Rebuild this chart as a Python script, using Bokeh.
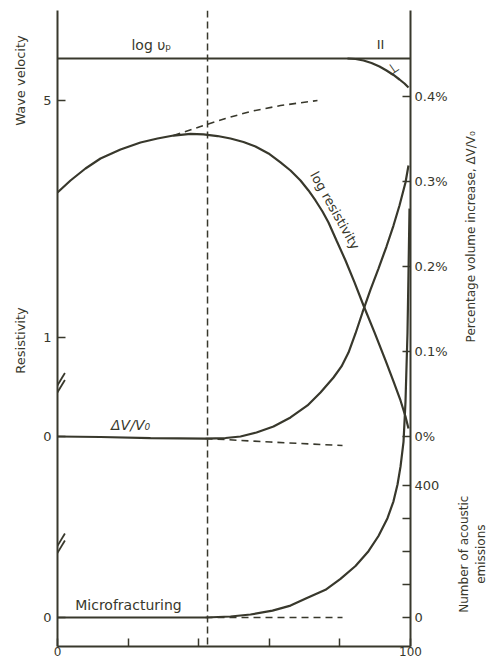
import math
from bokeh.plotting import figure
from bokeh.layouts import row
from bokeh.models import (Range1d, LinearAxis, FixedTicker, CustomJSTickFormatter,
                          Span, Label)
from bokeh.embed import file_html
from bokeh.resources import INLINE

# ---------------- data ----------------
time_major_ticks = [0, 100]
time_minor_ticks = [20, 40, 60, 80]
time_tick_labels = ["0", "100"]
critical_time = 42.5

# wave velocity (log vp) and its perpendicular branch
vp_time = [0, 100]
vp_log = [5.40, 5.40]
vperp_time = [82.15, 84.42, 86.69, 88.95, 91.22, 93.20, 95.18, 96.88, 98.30, 99.43]
vperp_log = [5.400, 5.395, 5.381, 5.357, 5.324, 5.286, 5.243, 5.200, 5.162, 5.124]
vel_tick_values = [5]

# log resistivity
res_time = [0, 3.68, 7.93, 12.18, 17.85, 23.51, 28.33, 32.86, 37.68, 41.36, 45.33,
            49.01, 52.69, 56.09, 59.77, 63.17, 66.01, 68.84, 71.10, 73.09, 75.07,
            76.77, 79.04, 81.59, 84.14, 86.69, 89.80, 92.92, 95.18, 97.17, 98.58, 99.43]
res_val = [2.465, 2.586, 2.707, 2.808, 2.899, 2.970, 3.010, 3.040, 3.056, 3.051, 3.035,
           3.010, 2.975, 2.929, 2.859, 2.768, 2.687, 2.586, 2.485, 2.384, 2.273,
           2.162, 1.980, 1.778, 1.556, 1.323, 1.051, 0.768, 0.556, 0.364, 0.202, 0.081]
res_trend_time = [32.86, 40.51, 47.59, 54.67, 63.17, 73.65]
res_trend_val = [3.040, 3.131, 3.212, 3.283, 3.343, 3.394]
res_tick_values = [0, 1]
res_break = 0.535

# volume increase dV/V0 (%)
dv_time = [0, 12.18, 26.35, 41.93, 47.59, 51.84, 56.37, 61.19, 66.01, 70.82, 74.50,
           78.19, 80.45, 82.44, 84.42, 86.40, 88.67, 90.93, 93.20, 95.18, 96.88,
           98.58, 99.43]
dv_pct = [0, -0.0006, -0.0018, -0.0024, -0.0018, 0, 0.0047, 0.0118, 0.0224, 0.0365,
          0.0518, 0.0694, 0.0824, 0.0988, 0.1212, 0.1459, 0.1729, 0.1976, 0.2235,
          0.2482, 0.2718, 0.2988, 0.3188]
dv_trend_time = [41.93, 60.34, 80.74]
dv_trend_pct = [-0.0024, -0.0065, -0.0106]
pct_tick_values = [0, 0.1, 0.2, 0.3, 0.4]
pct_tick_labels = ["0%", "0.1%", "0.2%", "0.3%", "0.4%"]

# acoustic emissions (microfracturing)
ae_time = [0, 26.35, 41.93, 49.01, 54.67, 60.91, 66.01, 70.82, 75.92, 80.17, 84.42,
           88.10, 90.93, 93.48, 95.18, 96.32, 97.17, 98.02, 98.58, 99.15, 99.43, 99.72]
ae_count = [0, 0, 0, 3, 9, 21, 36, 60, 84, 117, 156, 201, 247, 301, 352, 403, 457,
            532, 653, 863, 1043, 1239]
ae_trend_time = [41.93, 80.74]
ae_trend_count = [0, 0]
ae_major_ticks = [0, 400]
ae_minor_ticks = [100, 200, 300]
ae_tick_labels = ["0", "400"]
ae_break = 222.6

# ---------------- layout / styling ----------------
INK = "#38382c"
FONT = "DejaVu Sans"
H = 661
TOP, BOTTOM = 10, 15          # frame borders (px)
FRAME_TOP_PX, FRAME_BOT_PX = TOP, H - BOTTOM


def anchored_range(v0, px0, v1, px1):
    """range whose values v0, v1 sit at page rows px0, px1"""
    k = (v1 - v0) / (px0 - px1)
    return Range1d(v0 - (FRAME_BOT_PX - px0) * k, v0 + (px0 - FRAME_TOP_PX) * k)


vel_rng = anchored_range(5.0, 100, 5.4, 58)
res_rng = anchored_range(0.0, 436, 1.0, 337)
pct_rng = anchored_range(0.0, 436, 0.4, 96)
ae_rng = anchored_range(0.0, 617, 400.0, 485)
main_y = Range1d(0, 1)
ranges = {"vel": vel_rng, "res": res_rng, "pct": pct_rng, "ae": ae_rng}


def frac(v, rng):
    return (v - rng.start) / (rng.end - rng.start)


def base_fig(width, xr, left, right):
    f = figure(width=width, height=H, x_range=xr, y_range=main_y,
               output_backend="svg", toolbar_location=None,
               x_axis_type=None, y_axis_type=None,
               min_border_left=left, min_border_right=right,
               min_border_top=TOP, min_border_bottom=BOTTOM)
    f.extra_y_ranges = ranges
    f.outline_line_color = None
    f.background_fill_color = "white"
    f.border_fill_color = "white"
    f.xgrid.visible = False
    f.ygrid.visible = False
    return f


def lookup_formatter(positions, labels):
    return CustomJSTickFormatter(args=dict(pos=positions, labels=labels), code="""
        let best = 0;
        for (let i = 0; i < pos.length; i++) {
            if (Math.abs(pos[i] - tick) < Math.abs(pos[best] - tick)) best = i;
        }
        return labels[best];
    """)


def style_axis(ax, size="13px"):
    ax.axis_line_color = INK
    ax.axis_line_width = 2
    for pre in ("major", "minor"):
        setattr(ax, pre + "_tick_line_color", INK)
        setattr(ax, pre + "_tick_line_width", 1.5)
        setattr(ax, pre + "_tick_in", 8)
        setattr(ax, pre + "_tick_out", 0)
    ax.major_label_text_font = FONT
    ax.major_label_text_font_size = size
    ax.major_label_text_color = INK


# main plot: frame from page x 57 to 410
p = base_fig(415, Range1d(0, 100), 22, 40)

left_pos = [frac(0, ae_rng), frac(0, res_rng), frac(1, res_rng), frac(5, vel_rng)]
left_lab = ["0", "0", "1", "5"]
left_axis = LinearAxis(ticker=FixedTicker(ticks=left_pos),
                       formatter=lookup_formatter(left_pos, left_lab))
style_axis(left_axis)
left_axis.major_label_standoff = 6
p.add_layout(left_axis, "left")

right_pos = ([frac(v, ae_rng) for v in ae_major_ticks]
             + [frac(v, pct_rng) for v in pct_tick_values])
right_lab = ae_tick_labels + pct_tick_labels
right_axis = LinearAxis(ticker=FixedTicker(ticks=right_pos,
                                           minor_ticks=[frac(v, ae_rng) for v in ae_minor_ticks]),
                        formatter=lookup_formatter(right_pos, right_lab))
style_axis(right_axis)
right_axis.major_label_standoff = 4
p.add_layout(right_axis, "right")

bottom_axis = LinearAxis(ticker=FixedTicker(ticks=time_major_ticks, minor_ticks=time_minor_ticks),
                         formatter=lookup_formatter(time_major_ticks, time_tick_labels))
style_axis(bottom_axis, "12px")
bottom_axis.major_label_standoff = 0
p.add_layout(bottom_axis, "below")

# critical vertical dashed line
p.add_layout(Span(location=critical_time, dimension="height", line_color=INK,
                  line_width=1.5, line_dash="7 4"))

LW = 2.2
p.line(vp_time, vp_log, y_range_name="vel", line_color=INK, line_width=LW)
p.line(vperp_time, vperp_log, y_range_name="vel", line_color=INK, line_width=LW)

p.line(res_time, res_val, y_range_name="res", line_color=INK, line_width=LW)
p.line(res_trend_time, res_trend_val, y_range_name="res", line_color=INK,
       line_width=1.6, line_dash="7 5")

p.line(dv_time, dv_pct, y_range_name="pct", line_color=INK, line_width=LW)
p.line(dv_trend_time, dv_trend_pct, y_range_name="pct", line_color=INK,
       line_width=1.6, line_dash="7 5")

p.line(ae_time, ae_count, y_range_name="ae", line_color=INK, line_width=LW)
p.line(ae_trend_time, ae_trend_count, y_range_name="ae", line_color=INK,
       line_width=1.6, line_dash="7 5")

# axis break marks "//" on the left axis
for rng_name, centre, rng in (("res", res_break, res_rng), ("ae", ae_break, ae_rng)):
    unit = (rng.end - rng.start) / (FRAME_BOT_PX - FRAME_TOP_PX)   # value per px
    for shift in (-3.5, 3.5):
        p.segment(x0=[-0.3], y0=[centre + (shift - 7) * unit],
                  x1=[2.1], y1=[centre + (shift + 7) * unit],
                  y_range_name=rng_name, line_color=INK, line_width=1.8)


def lab(fig, text, x, y, rng, size="14px", angle=0.0, align="center",
        baseline="middle", style="normal"):
    fig.add_layout(Label(x=x, y=y, y_range_name=rng, text=text, text_font=FONT,
                         text_font_size=size, text_color=INK, angle=angle,
                         text_align=align, text_baseline=baseline,
                         text_font_style=style, text_line_height=1.25))


# in-plot annotations
lab(p, "log υₚ", 26.6, 5.524, "vel")
lab(p, "II", 91.5, 5.53, "vel", size="13px")
lab(p, "⊥", 94.9, 5.305, "vel", size="14px", angle=0.6)
lab(p, "log resistivity", 78.6, 2.283, "res", size="13px", angle=-1.06)
lab(p, "ΔV/V₀", 20.7, 0.0135, "pct", style="italic")
lab(p, "Microfracturing", 20.1, 39, "ae")

# left gutter (page x 0..35) with the left-hand titles
gl = base_fig(35, Range1d(0, 35), 0, 0)
lab(gl, "Wave velocity", 20, 5.19, "vel", size="13px", angle=math.pi / 2)
lab(gl, "Resistivity", 20, 0.97, "res", size="13px", angle=math.pi / 2)

# right gutter (page x 450..490) with the right-hand titles
gr = base_fig(40, Range1d(0, 40), 0, 0)
lab(gr, "Percentage volume increase, ΔV/V₀", 20, 0.235, "pct", size="12px",
    angle=math.pi / 2)
lab(gr, "Number of acoustic\nemissions", 22, 192, "ae", size="12px",
    angle=math.pi / 2)

layout = row(gl, p, gr)
open("out.html", "w").write(file_html(layout, INLINE))
